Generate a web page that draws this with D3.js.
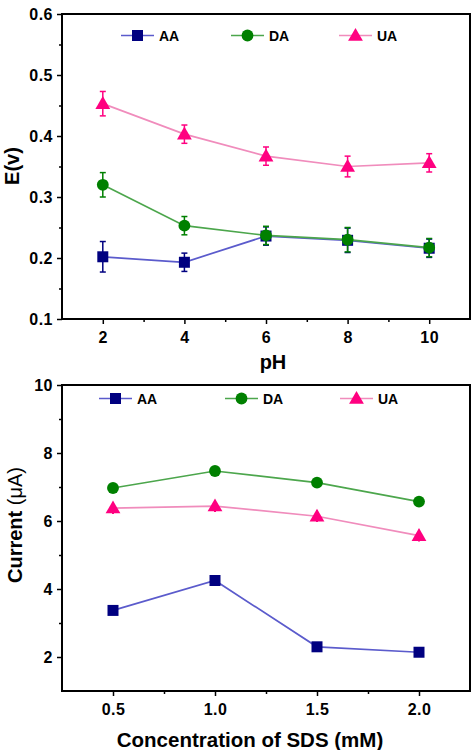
<!DOCTYPE html>
<html><head><meta charset="utf-8">
<script src="https://cdn.jsdelivr.net/npm/d3@7/dist/d3.min.js"></script>
<style>body{margin:0;background:#fff}svg{display:block}text{font-family:"Liberation Sans",Arial,sans-serif;font-weight:bold;fill:#000}</style>
</head><body><svg id="c" width="476" height="750"></svg>
<script>
// ---- Data: top panel (E vs pH) ----
const pH = [2, 4, 6, 8, 10];
const topAA = [0.202, 0.193, 0.236, 0.229, 0.216];
const topAAerr = [0.025, 0.015, 0.015, 0.02, 0.015];
const topDA = [0.320, 0.253, 0.237, 0.230, 0.217];
const topDAerr = [0.02, 0.015, 0.015, 0.02, 0.015];
const topUA = [0.453, 0.403, 0.367, 0.350, 0.356];
const topUAerr = [0.02, 0.015, 0.015, 0.017, 0.015];
const topYTicks = [0.1, 0.2, 0.3, 0.4, 0.5, 0.6];
const topXTicks = [2, 4, 6, 8, 10];

// ---- Data: bottom panel (Current vs SDS) ----
const sds = [0.5, 1.0, 1.5, 2.0];
const botAA = [3.37, 4.25, 2.30, 2.14];
const botDA = [6.97, 7.47, 7.13, 6.57];
const botUA = [6.38, 6.44, 6.14, 5.57];
const botUAerr = [0.15, 0.15, 0.15, 0.15];
const botYTicks = [2, 4, 6, 8, 10];
const botXTicks = [0.5, 1.0, 1.5, 2.0];

const seriesNames = ["AA", "DA", "UA"];
const markerCol = {AA: "#000080", DA: "#008000", UA: "#ff0080"};
const lineCol = {AA: "#5b5bcc", DA: "#4ca64c", UA: "#f08cbc"};
const shape = {AA: d3.symbolSquare, DA: d3.symbolCircle, UA: d3.symbolTriangle};
const size = {AA: 121, DA: 110, UA: 95};
const FONT = '"Liberation Sans",Arial,sans-serif';

const svg = d3.select("#c");

function marker(g, name, x, y) {
  g.append("path")
    .attr("d", d3.symbol().type(shape[name]).size(size[name])())
    .attr("transform", `translate(${x},${y + (name === "UA" ? 1 : 0)})`)
    .attr("fill", markerCol[name]);
}

function panel(cfg) {
  const g = svg.append("g");
  const x = d3.scaleLinear().domain(cfg.xDomain).range([62, 470]);
  const y = d3.scaleLinear().domain(cfg.yDomain).range([cfg.bottom, cfg.top]);

  // minor ticks
  const xa = d3.axisBottom(x).tickValues(cfg.xMinor).tickSize(3).tickFormat("");
  g.append("g").attr("transform", `translate(0,${cfg.bottom})`).call(xa)
    .call(s => s.select(".domain").remove())
    .selectAll("line").attr("stroke", "#000").attr("stroke-width", 1.5);
  const ya = d3.axisLeft(y).tickValues(cfg.yMinor).tickSize(3).tickFormat("");
  g.append("g").attr("transform", `translate(62,0)`).call(ya)
    .call(s => s.select(".domain").remove())
    .selectAll("line").attr("stroke", "#000").attr("stroke-width", 1.5);

  // major ticks
  const xA = d3.axisBottom(x).tickValues(cfg.xTicks).tickSize(5).tickPadding(8).tickFormat(cfg.xFmt);
  const gx = g.append("g").attr("transform", `translate(0,${cfg.bottom})`).call(xA);
  gx.select(".domain").remove();
  gx.selectAll("line").attr("stroke", "#000").attr("stroke-width", 1.5);
  gx.selectAll("text").attr("font-size", 16).attr("letter-spacing", 0.5).attr("font-family", FONT).attr("font-weight", "bold").attr("fill", "#000");
  const yA = d3.axisLeft(y).tickValues(cfg.yTicks).tickSize(5).tickPadding(4).tickFormat(cfg.yFmt);
  const gy = g.append("g").attr("transform", `translate(62,0)`).call(yA);
  gy.select(".domain").remove();
  gy.selectAll("line").attr("stroke", "#000").attr("stroke-width", 1.5);
  gy.selectAll("text").attr("font-size", 16).attr("letter-spacing", 0.5).attr("font-family", FONT).attr("font-weight", "bold").attr("fill", "#000");

  // frame
  g.append("rect").attr("x", 62).attr("y", cfg.top).attr("width", 408).attr("height", cfg.bottom - cfg.top)
    .attr("fill", "none").attr("stroke", "#000").attr("stroke-width", 2);

  // series
  cfg.series.forEach(s => {
    const pts = cfg.xs.map((xv, i) => [x(xv), y(s.vals[i])]);
    g.append("path").attr("d", d3.line()(pts)).attr("fill", "none")
      .attr("stroke", lineCol[s.name]).attr("stroke-width", 1.7);
    if (s.err) {
      cfg.xs.forEach((xv, i) => {
        const y1 = y(s.vals[i] - s.err[i]), y2 = y(s.vals[i] + s.err[i]), cx = x(xv);
        const eg = g.append("g").attr("stroke", markerCol[s.name]).attr("stroke-width", 1.5);
        eg.append("line").attr("x1", cx).attr("x2", cx).attr("y1", y1).attr("y2", y2);
        const cw = s.cap === undefined ? 3 : s.cap;
        eg.append("line").attr("x1", cx - cw).attr("x2", cx + cw).attr("y1", y1).attr("y2", y1);
        eg.append("line").attr("x1", cx - cw).attr("x2", cx + cw).attr("y1", y2).attr("y2", y2);
      });
    }
    pts.forEach(p => marker(g, s.name, p[0], p[1]));
  });

  // legend
  cfg.legend.forEach((L, i) => {
    const name = seriesNames[i];
    g.append("line").attr("x1", L[0]).attr("x2", L[0] + 33).attr("y1", cfg.legY).attr("y2", cfg.legY)
      .attr("stroke", lineCol[name]).attr("stroke-width", 1.7);
    marker(g, name, L[0] + 16.5, cfg.legY);
    g.append("text").attr("x", L[0] + 38).attr("y", cfg.legY + 5).attr("font-size", 14).text(name);
  });

  // axis labels
  g.append("text").attr("transform", `translate(${cfg.yLabX},${cfg.yLabCy}) rotate(-90)`)
    .attr("text-anchor", "middle").attr("font-size", cfg.yLabSize).call(cfg.yLabel);
  g.append("text").attr("x", cfg.xLabCx).attr("y", cfg.xLabY).attr("text-anchor", "middle")
    .attr("font-size", cfg.xLabSize).text(cfg.xLabel);
}

panel({
  xDomain: [1, 11], yDomain: [0.1, 0.6], top: 14, bottom: 319,
  xTicks: topXTicks, yTicks: topYTicks,
  xMinor: [3, 5, 7, 9], yMinor: [0.15, 0.25, 0.35, 0.45, 0.55],
  xFmt: d3.format("d"), yFmt: d3.format(".1f"),
  xs: pH,
  series: [{name: "AA", vals: topAA, err: topAAerr}, {name: "DA", vals: topDA, err: topDAerr}, {name: "UA", vals: topUA, err: topUAerr}],
  legend: [[121], [231], [339]], legY: 35.5,
  yLabX: 19, yLabCy: 166, yLabSize: 20, yLabel: t => t.text("E(v)"),
  xLabCx: 273, xLabY: 369, xLabSize: 20, xLabel: "pH"
});

panel({
  xDomain: [0.25, 2.25], yDomain: [1, 10], top: 385, bottom: 691,
  xTicks: botXTicks, yTicks: botYTicks,
  xMinor: [0.75, 1.25, 1.75], yMinor: [3, 5, 7, 9],
  xFmt: d3.format(".1f"), yFmt: d3.format("d"),
  xs: sds,
  series: [{name: "AA", vals: botAA}, {name: "DA", vals: botDA}, {name: "UA", vals: botUA, err: botUAerr, cap: 1}],
  legend: [[99], [225], [340]], legY: 398.5,
  yLabX: 22, yLabCy: 525, yLabSize: 20,
  yLabel: t => { t.append("tspan").text("Current "); t.append("tspan").attr("font-weight", "normal").text("(μA)"); },
  xLabCx: 250, xLabY: 747, xLabSize: 20.5, xLabel: "Concentration of SDS (mM)"
});
</script></body></html>
